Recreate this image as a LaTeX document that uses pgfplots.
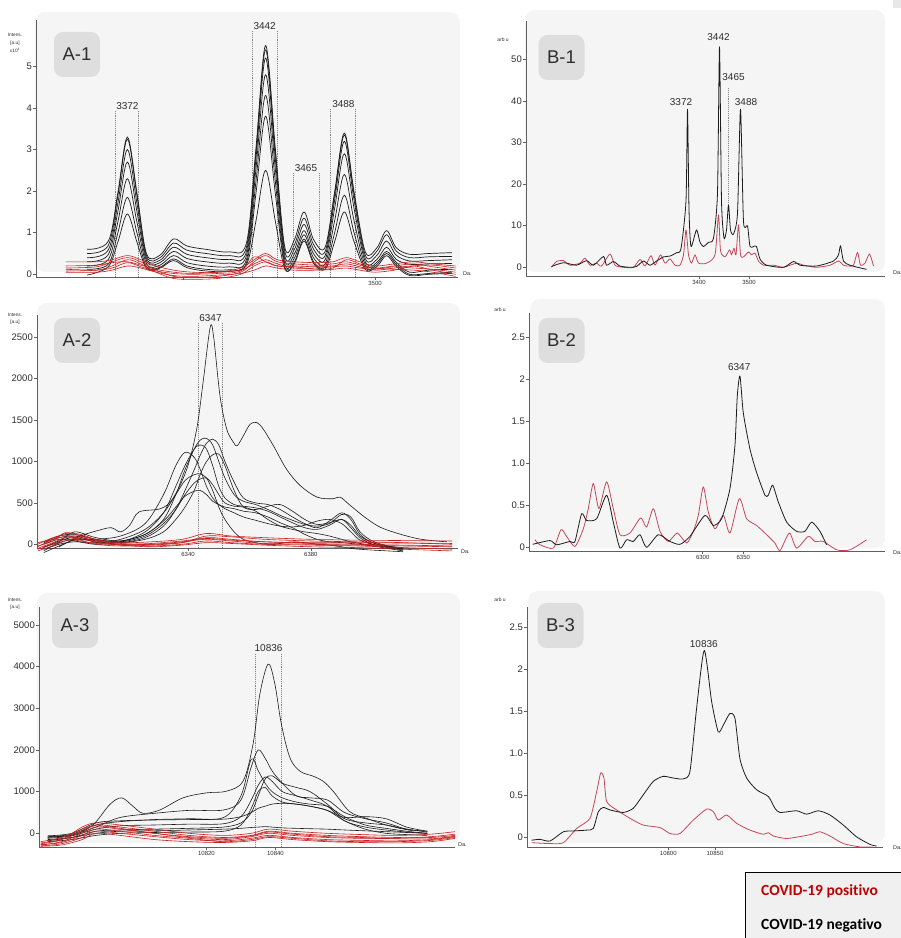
\documentclass[border=0pt]{standalone}
\usepackage{fontspec}
\setmainfont{Liberation Sans}
\newfontfamily\carlito[Ligatures=NoCommon]{Carlito}
\usepackage{pgfplots}
\pgfplotsset{compat=1.18}
\usepackage{pgfplotstable}
\definecolor{bgc}{RGB}{245,245,245}
\definecolor{boxc}{RGB}{222,222,222}
\definecolor{axc}{RGB}{95,95,95}
\definecolor{txc}{RGB}{45,45,45}
\definecolor{blk}{RGB}{28,28,28}
\definecolor{redA}{RGB}{200,30,30}
\definecolor{redB}{RGB}{196,72,88}
\definecolor{legred}{RGB}{192,0,0}
\definecolor{legbg}{RGB}{240,240,240}
\definecolor{dotc}{RGB}{130,130,130}
\definecolor{cornc}{RGB}{232,232,232}

% ---------------- A-1 ----------------
\pgfplotstableread{
x b1 b2 b3 b4 b5 b6 b7
3350 0.60 0.50 0.40 0.30 0.20 0.12 -0.02
3361 0.79 0.69 0.58 0.47 0.35 0.24 0.18
3366 1.95 1.88 1.70 1.50 1.25 0.99 0.77
3371 3.30 3.25 3.00 2.70 2.30 1.85 1.45
3376 1.95 1.88 1.70 1.50 1.25 0.99 0.77
3381 0.49 0.44 0.38 0.32 0.25 0.18 0.14
3388 0.46 0.40 0.34 0.28 0.22 0.17 0.15
3395 0.85 0.75 0.65 0.55 0.45 0.37 0.33
3402 0.68 0.58 0.48 0.38 0.28 0.20 0.16
3412 0.60 0.50 0.40 0.30 0.20 0.12 0.08
3424 0.54 0.45 0.36 0.27 0.18 0.11 0.07
3433 0.75 0.65 0.55 0.45 0.35 0.27 0.23
3438 3.05 2.95 2.80 2.55 2.25 1.96 1.29
3443 5.50 5.40 5.20 4.80 4.30 3.80 2.50
3448 3.05 2.95 2.80 2.55 2.25 1.96 1.29
3453 0.65 0.55 0.45 0.35 0.25 0.17 0.13
3458 0.83 0.71 0.60 0.49 0.39 0.30 0.26
3463 1.50 1.35 1.20 1.05 0.95 0.85 0.80
3468 0.83 0.71 0.60 0.49 0.39 0.30 0.26
3474 0.65 0.55 0.45 0.35 0.25 0.17 0.12
3479 2.00 1.93 1.80 1.60 1.30 1.01 0.79
3484 3.40 3.35 3.20 2.90 2.40 1.90 1.50
3489 2.00 1.93 1.80 1.60 1.30 1.01 0.79
3495 0.53 0.45 0.37 0.29 0.21 0.15 0.11
3501 0.64 0.56 0.46 0.36 0.29 0.24 0.19
3506 1.05 0.95 0.80 0.65 0.55 0.50 0.45
3511 0.64 0.56 0.46 0.36 0.29 0.24 0.19
3518 0.48 0.40 0.32 0.24 0.05 0.00 -0.03
3528 0.50 0.42 0.33 0.25 0.10 0.02 0.00
3540 0.52 0.43 0.35 0.26 0.12 0.05 0.02
}\Aonek
\pgfplotstableread{
x r1 r2 r3 r4 r5 r6
3339 0.30 0.15 0.08 0.20 0.05 0.12
3355 0.30 0.18 0.10 0.22 0.05 0.10
3363 0.35 0.30 0.20 0.28 0.10 0.15
3371 0.45 0.40 0.35 0.30 0.20 0.28
3378 0.35 0.30 0.25 0.22 0.15 0.18
3386 0.20 0.10 0.05 0.12 0.05 0.08
3395 0.10 -0.05 -0.10 0.05 -0.03 0.02
3405 0.05 -0.08 -0.12 0.02 -0.05 0.00
3418 0.05 -0.05 -0.10 0.05 -0.02 0.02
3430 0.15 0.05 0.00 0.10 0.02 0.08
3437 0.35 0.30 0.20 0.25 0.10 0.42
3443 0.50 0.45 0.30 0.35 0.20 0.30
3449 0.35 0.30 0.20 0.25 0.15 0.20
3458 0.30 0.25 0.20 0.15 0.10 0.18
3470 0.28 0.22 0.18 0.15 0.10 0.12
3478 0.30 0.25 0.20 0.18 0.12 0.15
3485 0.40 0.30 0.25 0.20 0.15 0.35
3492 0.30 0.22 0.18 0.15 0.10 0.25
3500 0.20 0.15 0.10 0.12 0.05 0.15
3510 0.25 0.20 0.15 0.18 0.10 0.12
3520 0.30 0.25 0.20 0.15 0.20 0.10
3530 0.25 0.18 0.10 0.12 0.22 0.05
3542 0.20 0.10 0.00 0.05 0.15 -0.05
}\Aoner
% ---------------- A-2 ----------------
\pgfplotstableread{
x k1 k2 k3 k4 k5 k6 k7 k8
6293 -80 -40 0 -100 20 -60 30 -30
6298 20 40 60 -20 80 0 100 30
6303 60 80 40 50 100 30 120 150
6310 50 30 0 60 40 20 60 80
6318 40 20 30 100 20 60 30 40
6326 120 80 150 250 60 180 100 120
6332 300 220 380 600 150 380 250 280
6336 600 420 700 950 300 600 420 450
6339 900 650 950 1110 450 770 600 580
6342 1150 900 1150 1050 650 840 740 640
6344 1260 1080 1200 900 850 850 790 650
6346 1280 1220 1150 700 1000 800 800 600
6348 1200 1270 950 560 1080 650 720 520
6350 1000 1200 700 480 1090 450 600 480
6352 800 1000 560 450 950 300 500 430
6355 600 750 480 430 650 150 460 380
6358 520 560 460 400 450 60 450 330
6362 480 500 440 380 420 20 400 290
6366 420 480 400 330 460 0 300 250
6370 350 420 330 260 480 10 220 220
6374 290 330 260 200 400 30 180 210
6378 240 250 200 120 300 20 150 230
6382 220 200 180 60 240 0 130 280
6386 250 280 230 30 260 -10 100 300
6390 360 380 300 20 300 -30 60 250
6393 330 300 200 10 230 -50 30 150
6396 150 120 80 0 100 -60 10 50
6400 40 20 0 -20 20 -70 -10 0
6405 -20 -30 -40 -50 -20 -80 -30 -30
6410 -60 -50 -70 -80 -40 -90 -60 -60
}\Atwok
\pgfplotstableread{
x r1 r2 r3 r4 r5 r6 r7
6291 -30 -50 0 -80 20 -60 -20
6296 60 20 80 -20 60 0 40
6300 130 80 110 40 90 60 140
6305 120 100 60 80 50 40 100
6310 60 50 40 20 0 10 30
6318 20 0 10 -10 -20 0 -10
6328 30 0 0 -20 -10 10 -30
6338 60 20 30 0 20 40 -10
6346 130 80 60 40 100 70 20
6354 100 60 40 20 90 50 10
6365 80 30 10 0 60 30 -10
6380 60 20 0 -10 40 10 -30
6395 50 20 -10 -20 30 0 -40
6410 45 15 -20 -40 20 -10 -60
6426 40 10 -30 -60 0 -20 -80
}\Atwor
% ---------------- A-3 ----------------
\pgfplotstableread{
x c1 c2 c3 c4 c5 c6 c7
10774 -100 -80 -120 -150 -200 -180 -60
10781 -40 -20 -60 -100 -150 -100 0
10788 150 200 100 50 -50 0 250
10795 380 280 180 80 0 50 300
10805 480 330 200 100 20 60 320
10815 550 350 220 120 30 80 330
10825 560 380 230 150 50 100 340
10830 800 900 400 250 200 120 400
10833 1600 1780 800 500 600 140 500
10835 2000 1500 1150 900 1000 150 600
10837 1800 1200 1350 1300 1100 160 650
10839 1500 1000 1250 1380 900 150 700
10842 1200 850 1000 1200 750 130 720
10846 900 750 900 1100 700 120 700
10850 850 700 800 1000 650 110 650
10855 800 650 650 700 550 100 550
10860 500 400 300 350 300 80 380
10866 350 200 150 250 100 60 400
10872 250 120 80 200 0 40 350
10878 100 50 30 100 -30 20 150
10884 50 0 0 30 -50 0 50
}\Athreek
\pgfplotstableread{
x r1 r2 r3 r4 r5 r6 r7
10772 -250 -280 -300 -230 -270 -200 -310
10778 -150 -200 -250 -150 -220 -100 -280
10784 150 0 -100 50 -50 100 -150
10788 250 150 50 200 100 180 0
10795 200 100 0 150 50 120 -50
10805 100 0 -80 50 -50 0 -150
10815 0 -100 -150 -50 -120 -80 -200
10825 -50 -150 -180 -100 -200 -120 -220
10833 0 -80 -120 -50 -150 -60 -180
10838 100 0 -50 50 -80 30 -100
10845 50 -50 -100 0 -120 -20 -150
10855 0 -100 -150 -50 -180 -80 -200
10865 -30 -120 -170 -80 -200 -100 -220
10875 -50 -120 -180 -100 -200 -130 -230
10885 -20 -80 -150 -100 -170 -130 -200
10892 40 -20 -80 -50 -100 -70 -120
}\Athreer

\pgfplotsset{
 panel/.style={
  scale only axis, anchor=south west, clip=false,
  axis lines=left, axis line style={-, draw=axc, line width=0.9pt},
  tick style={draw=axc, line width=0.6pt}, major tick length=3pt, tick align=outside,
  yticklabel style={font=\fontsize{9.5}{10}\selectfont, text=txc, inner sep=1pt},
  xticklabel style={font=\fontsize{6}{7}\selectfont, text=txc, inner sep=1.5pt},
  scaled ticks=false,
  /pgf/number format/assume math mode=true, /pgf/number format/1000 sep={},
 },
}
\tikzset{
 kA/.style={blk, line width=0.7pt, smooth, tension=0.55, line join=round},
 rA/.style={redA, line width=0.6pt, smooth, tension=0.55, line join=round},
 kB/.style={blk, line width=0.8pt, smooth, tension=0.4, line join=round},
 rB/.style={redB, line width=0.8pt, smooth, tension=0.4, line join=round},
 dotl/.style={dotc, densely dotted, line width=0.9pt},
 pk/.style={font=\fontsize{10}{11}\selectfont, text=txc, inner sep=1pt, anchor=south},
}

\begin{document}
\begin{tikzpicture}[x=1pt,y=1pt]
\useasboundingbox (0,0) rectangle (901,938);
% panel backgrounds
\fill[bgc, rounded corners=10pt] (35,926) rectangle (460,666);
\fill[bgc, rounded corners=10pt] (525,928) rectangle (885,666);
\fill[bgc, rounded corners=10pt] (37,635) rectangle (460,390);
\fill[bgc, rounded corners=10pt] (530,639) rectangle (885,390);
\fill[bgc, rounded corners=10pt] (37,345) rectangle (460,95);
\fill[bgc, rounded corners=10pt] (528,347) rectangle (885,95);
\fill[cornc] (893,938) rectangle (901,930);

% ===== A-1 =====
\begin{axis}[panel, at={(36pt,661pt)}, width=422pt, height=257pt,
  xmin=3323.4, xmax=3543.2, ymin=-0.065, ymax=6.113,
  ytick={0,1,2,3,4,5}, xtick={3400,3500}, xticklabels={,3500}]
\addplot[dotl] coordinates {(3364.6,-0.065) (3364.6,3.93)};
\addplot[dotl] coordinates {(3377,-0.065) (3377,3.93)};
\addplot[dotl] coordinates {(3436,-0.065) (3436,5.85)};
\addplot[dotl] coordinates {(3449,-0.065) (3449,5.85)};
\addplot[dotl] coordinates {(3457.3,-0.065) (3457.3,2.44)};
\addplot[dotl] coordinates {(3470.8,-0.065) (3470.8,2.44)};
\addplot[dotl] coordinates {(3477,-0.065) (3477,3.97)};
\addplot[dotl] coordinates {(3490,-0.065) (3490,3.97)};
\foreach \c in {b1,b2,b3,b4,b5,b6,b7}{\addplot[kA] table[x=x,y=\c]{\Aonek};}
\foreach \c in {r1,r2,r3,r4,r5,r6}{\addplot[rA] table[x=x,y=\c]{\Aoner};}
\node[pk] at (axis cs:3371,3.93) {3372};
\node[pk] at (axis cs:3442.5,5.85) {3442};
\node[pk] at (axis cs:3464,2.44) {3465};
\node[pk] at (axis cs:3483.5,3.97) {3488};
\end{axis}

% ===== B-1 =====
\begin{axis}[panel, at={(526pt,662pt)}, width=359pt, height=255pt,
  xmin=3054, xmax=3772, ymin=-2.09, ymax=59.2,
  ytick={0,10,20,30,40,50}, xtick={3400,3500}]
\addplot[rB] coordinates {(3105,0) (3115,1.4) (3129,1.6) (3142,0.5) (3162,1) (3172,2.2) (3182,0.5) (3195,1) (3205,0.3) (3222,3.2) (3232,0.5) (3249,0) (3269,0) (3282,1.9) (3292,0.3) (3304,2.8) (3312,0.5) (3323,3) (3332,1) (3342,2) (3352,0.5) (3362,0.5) (3369,3) (3374,9) (3379,3) (3385,1) (3392,3) (3399,1) (3415,1) (3432,3) (3439,12.6) (3443,4) (3452,2.5) (3461,4.2) (3465,3) (3470,4.6) (3474,3) (3479,10.2) (3483,3) (3489,2.5) (3499,3.7) (3505,3) (3512,3.4) (3519,1.5) (3529,0.5) (3549,0.5) (3569,0) (3595,1) (3609,0.5) (3635,0) (3662,0.5) (3679,1.5) (3689,0.5) (3699,0.3) (3709,0.5) (3717,3.6) (3723,0.5) (3732,1) (3741,3.2) (3749,0.3)};
\addplot[kB] coordinates {(3105,0.2) (3129,1.1) (3155,0.5) (3175,1.6) (3189,0.5) (3209,2.6) (3215,0.5) (3229,1.4) (3242,0.3) (3262,0) (3275,0.2) (3289,1.5) (3302,0.5) (3315,1.5) (3329,2.5) (3342,2.7) (3355,3.5) (3364,4.5) (3374,16) (3377,38) (3380,14) (3384,5) (3395,9) (3402,6) (3409,5) (3419,6) (3429,7) (3437,18) (3441,53) (3445,16) (3450,7) (3455,9) (3459,15) (3463,9) (3469,8) (3477,13) (3483,38) (3489,11) (3497,10) (3502,5) (3509,5) (3515,5) (3522,2) (3535,0.5) (3569,0) (3589,1.4) (3602,0.5) (3635,0.3) (3669,1.5) (3679,3) (3683,5.2) (3689,1.5) (3702,0.5) (3735,-0.5)};
\addplot[dotl] coordinates {(3459,15) (3459,43)};
\node[pk] at (axis cs:3364,38.5) {3372};
\node[pk] at (axis cs:3439,54.2) {3442};
\node[pk] at (axis cs:3469,44.6) {3465};
\node[pk] at (axis cs:3494,38.5) {3488};
\end{axis}

% ===== A-2 =====
\begin{axis}[panel, at={(37pt,390pt)}, width=421pt, height=233pt,
  xmin=6290.8, xmax=6427.9, ymin=-44.7, ymax=2769,
  ytick={0,500,1000,1500,2000,2500}, xtick={6340,6380}]
\addplot[dotl] coordinates {(6343.4,-44.7) (6343.4,2673)};
\addplot[dotl] coordinates {(6351.3,-44.7) (6351.3,2673)};
\foreach \c in {k1,k2,k3,k4,k5,k6,k7,k8}{\addplot[kA, line width=0.6pt] table[x=x,y=\c]{\Atwok};}
\addplot[kA, line width=0.6pt] coordinates {(6298,-30) (6305,100) (6311,170) (6315,200) (6318,150) (6321,230) (6324,390) (6331,430) (6335,550) (6339.6,910) (6342.8,1390) (6345,1990) (6347.2,2620) (6348.3,2510) (6350.4,1790) (6352.6,1390) (6354.8,1230) (6356,1190) (6358,1310) (6360.2,1450) (6362.4,1470) (6364.5,1390) (6367.8,1190) (6372,910) (6376.5,710) (6382,570) (6387.3,550) (6389.5,570) (6392.8,470) (6398.2,310) (6403.6,190) (6414.5,70) (6424.3,30)};
\foreach \c in {r1,r2,r3,r4,r5,r6,r7}{\addplot[rA] table[x=x,y=\c]{\Atwor};}
\node[pk] at (axis cs:6347.3,2673) {6347};
\end{axis}

% ===== B-2 =====
\begin{axis}[panel, at={(529pt,387pt)}, width=356pt, height=238pt,
  xmin=6086.1, xmax=6524.5, ymin=-0.044, ymax=2.789,
  ytick={0,0.5,1,1.5,2,2.5}, yticklabels={0,0.5,1.0,1.5,2,2.5}, xtick={6300,6350}]
\addplot[rB] coordinates {(6093.4,0.09) (6099.6,0.03) (6116,-0.01) (6125.5,0.21) (6132.4,0.13) (6142.7,0.01) (6153,0.22) (6159.1,0.46) (6165.3,0.76) (6172.2,0.46) (6181.7,0.78) (6189.9,0.46) (6198.1,0.15) (6210.4,0.17) (6223.6,0.35) (6230.9,0.24) (6239.2,0.46) (6247.4,0.19) (6257.6,0.07) (6268.7,0.17) (6280.2,0.05) (6288.4,0.19) (6294.6,0.38) (6300.7,0.72) (6306.9,0.42) (6315.1,0.22) (6325.4,0.38) (6333.6,0.17) (6345.1,0.58) (6354.1,0.34) (6366.4,0.26) (6378.7,0.15) (6389,0.05) (6395.2,-0.04) (6406.7,0.17) (6415.7,-0.01) (6430,0.13) (6438.3,0.07) (6448.5,0.07) (6465,-0.03) (6481.4,-0.03) (6501.9,0.09)};
\addplot[kB] coordinates {(6090.6,0.035) (6111.9,0.08) (6120,0.03) (6136.5,0.07) (6142.7,0.07) (6150.9,0.4) (6157,0.32) (6169.4,0.34) (6181.7,0.62) (6189.9,0.3) (6198.1,-0.01) (6206.3,0.09) (6214.5,0.07) (6222.7,0.15) (6230.9,0) (6245.3,0.15) (6259.7,0.07) (6272,0.035) (6284.3,0.13) (6302.8,0.38) (6313,0.26) (6323.3,0.34) (6333.6,0.7) (6339.7,1.21) (6342.6,1.8) (6345.9,2.04) (6350,1.6) (6358.2,1.17) (6366.4,0.89) (6376.7,0.62) (6380.8,0.62) (6386.1,0.74) (6393.1,0.54) (6403.4,0.3) (6415.7,0.19) (6425.9,0.19) (6434.2,0.3) (6444.4,0.19) (6452.6,0.03)};
\node[pk] at (axis cs:6345,2.09) {6347};
\end{axis}

% ===== A-3 =====
\begin{axis}[panel, at={(39pt,91pt)}, width=416pt, height=240pt,
  xmin=10771.5, xmax=10892, ymin=-328, ymax=5427,
  ytick={0,1000,2000,3000,4000,5000}, xtick={10820,10840}]
\addplot[dotl] coordinates {(10834.3,-328) (10834.3,4317)};
\addplot[dotl] coordinates {(10841.8,-328) (10841.8,4317)};
\foreach \c in {c1,c2,c3,c4,c5,c6,c7}{\addplot[kA, line width=0.6pt] table[x=x,y=\c]{\Athreek};}
\addplot[kA, line width=0.6pt] coordinates {(10774.6,-80) (10781.4,-40) (10787.1,200) (10792,690) (10795.4,850) (10798.7,650) (10801.6,480) (10806.5,560) (10813.2,850) (10820,970) (10825.8,1010) (10830.6,1250) (10833.5,2140) (10835.5,3350) (10837.9,4060) (10839.8,3590) (10841.7,2620) (10844.2,1810) (10847.1,1490) (10850.9,1370) (10853.8,1250) (10856.7,1010) (10861.5,520) (10866.4,360) (10871.2,220) (10876,120) (10879.9,60)};
\foreach \c in {r1,r2,r3,r4,r5,r6,r7}{\addplot[rA] table[x=x,y=\c]{\Athreer};}
\node[pk] at (axis cs:10838,4317) {10836};
\end{axis}

% ===== B-3 =====
\begin{axis}[panel, at={(527pt,91pt)}, width=356pt, height=240pt,
  xmin=10648.7, xmax=11029.9, ymin=-0.111, ymax=2.746,
  ytick={0,0.5,1,1.5,2,2.5}, yticklabels={0,0.5,1.0,1.5,2,2.5}, xtick={10800,10850}]
\addplot[rB] coordinates {(10653.7,-0.06) (10673.3,-0.07) (10687.6,-0.06) (10701.9,0.11) (10716.1,0.23) (10723.3,0.55) (10727.6,0.77) (10731.1,0.71) (10734,0.43) (10744.7,0.33) (10759,0.23) (10773.2,0.15) (10791.1,0.12) (10801.8,0.05) (10812.5,0.05) (10826.8,0.21) (10841,0.34) (10848.2,0.31) (10853.5,0.21) (10862.5,0.27) (10873.2,0.17) (10887.4,0.09) (10901.7,0.04) (10907.1,0.06) (10912.4,0.02) (10926.7,-0.01) (10944.5,0.02) (10953.5,0.04) (10962.4,0.07) (10973.1,0.02) (10987.4,-0.07) (11005.2,-0.11) (11019.5,-0.11)};
\addplot[kB] coordinates {(10653.7,-0.03) (10662.6,-0.02) (10673.3,-0.04) (10687.6,0.07) (10698.3,0.08) (10712.6,0.09) (10719.7,0.11) (10725.1,0.31) (10730.4,0.36) (10737.5,0.33) (10751.8,0.30) (10762.5,0.35) (10773.2,0.51) (10783.9,0.67) (10794.6,0.73) (10805.4,0.71) (10816.1,0.70) (10823.2,0.79) (10830.3,1.54) (10838.5,2.23) (10846.4,1.62) (10853.5,1.26) (10858.9,1.34) (10866,1.48) (10871.4,1.42) (10876.7,0.94) (10883.9,0.71) (10894.6,0.57) (10907.1,0.49) (10914.2,0.35) (10919.6,0.30) (10937.4,0.32) (10948.1,0.28) (10960.6,0.32) (10973.1,0.27) (10987.4,0.15) (11001.6,0.01) (11015.9,-0.08) (11023,-0.10)};
\node[pk] at (axis cs:10838,2.25) {10836};
\end{axis}

% panel labels
\tikzset{plab/.style={fill=boxc, rounded corners=9pt, minimum width=46pt, minimum height=45pt, inner sep=0pt, font=\fontsize{18.5}{20}\selectfont, text=txc}}
\node[plab] at (77,883.5) {A-1};
\node[plab] at (561.5,880.5) {B-1};
\node[plab] at (77,597.5) {A-2};
\node[plab] at (561.5,597.5) {B-2};
\node[plab] at (75,312.5) {A-3};
\node[plab] at (560.5,312.5) {B-3};

% axis titles
\tikzset{ylab/.style={align=center, text=txc, inner sep=0pt}}
\node[ylab, font=\fontsize{4.8}{8}\selectfont] at (15,895) {Intens.\\{[a.u]}\\x10\textsuperscript{4}};
\node[ylab, font=\fontsize{4.8}{7}\selectfont] at (15,619.5) {Intens.\\{[a.u]}};
\node[ylab, font=\fontsize{4.8}{7.5}\selectfont] at (15,334) {Intens.\\{[a.u]}};
\node[ylab, font=\fontsize{5}{6}\selectfont] at (503,898) {arb u};
\node[ylab, font=\fontsize{5}{6}\selectfont] at (500,628) {arb u};
\node[ylab, font=\fontsize{5}{6}\selectfont] at (500,338) {arb u};
\tikzset{dal/.style={anchor=west, text=txc, inner sep=0pt, font=\fontsize{5.5}{6}\selectfont}}
\node[dal] at (463,664) {Da.};
\node[dal] at (893,665) {Da.};
\node[dal] at (461,386) {Da.};
\node[dal] at (893,385) {Da.};
\node[dal] at (458,93) {Da.};
\node[dal] at (893,90) {Da.};

% legend
\draw[fill=legbg, line width=0.9pt] (745,66) rectangle (905,-5);
\node[anchor=west, inner sep=0pt, font=\carlito\bfseries\fontsize{15.5}{18}\selectfont, text=legred] at (761,46.3) {COVID-19 positivo};
\node[anchor=west, inner sep=0pt, font=\carlito\bfseries\fontsize{15.5}{18}\selectfont, text=black] at (761,13) {COVID-19 negativo};
\end{tikzpicture}
\end{document}
